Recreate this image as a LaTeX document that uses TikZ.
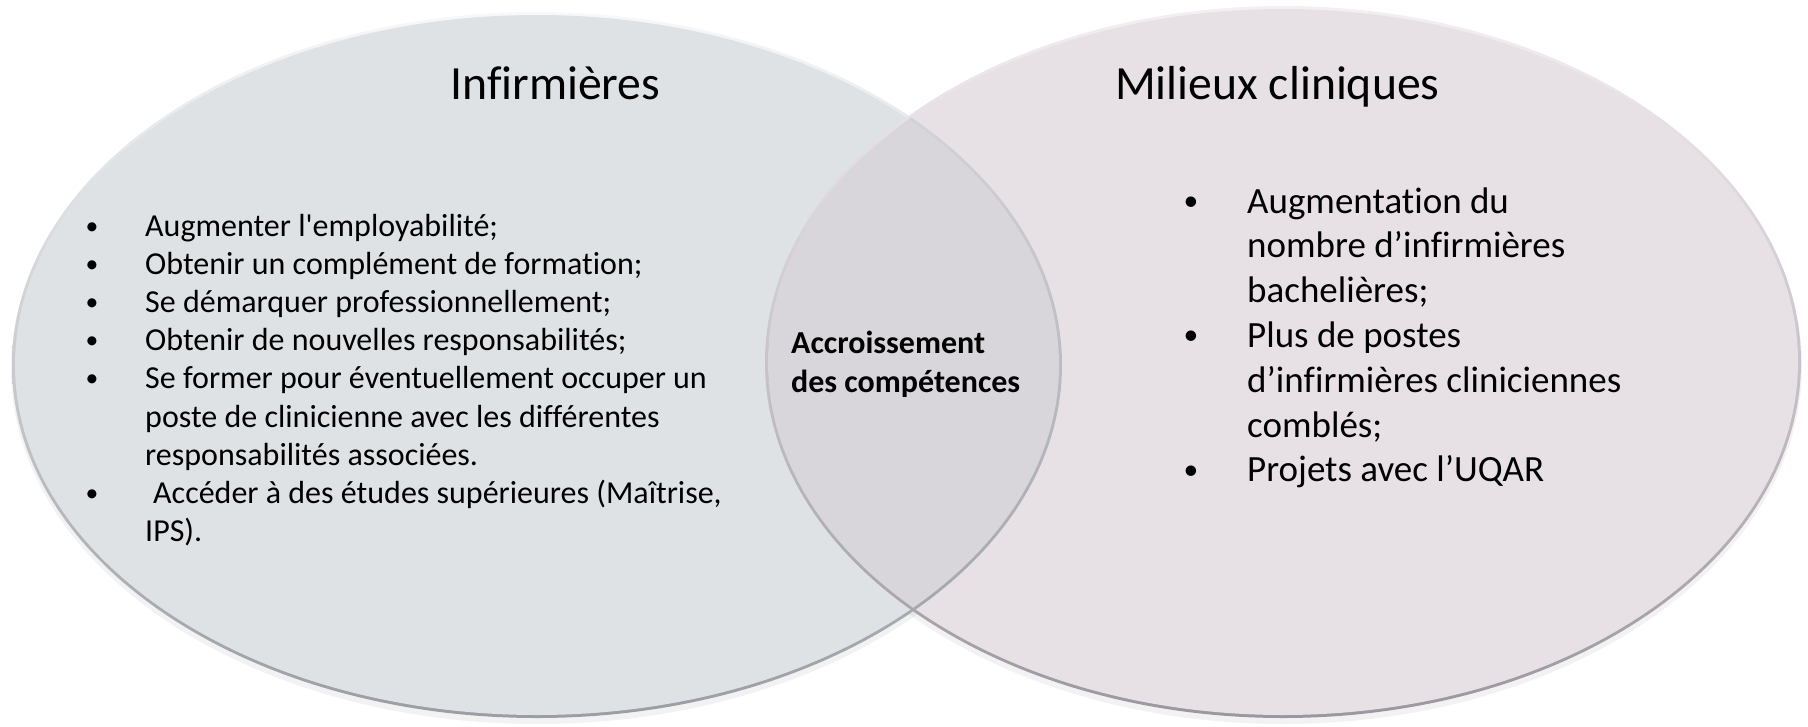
\documentclass[tikz,border=0pt]{standalone}
\usepackage{fontspec}
\setmainfont{Carlito}[Ligatures={NoCommon}]
\definecolor{leftfill}{HTML}{DEE2E5}
\definecolor{rightfill}{HTML}{E7E1E6}
\definecolor{interfill}{HTML}{D8D6DB}
\definecolor{lefttop}{HTML}{F6F8FA}
\definecolor{leftbot}{HTML}{9A9DA3}
\definecolor{righttop}{HTML}{F6EEF5}
\definecolor{rightbot}{HTML}{9C969F}
\begin{document}
\begin{tikzpicture}[x=1pt,y=-1pt,
  title/.style={anchor=base west, inner sep=0pt, font=\fontsize{47.7}{57}\selectfont},
  lbul/.style={anchor=base, inner sep=0pt, font=\fontsize{32}{38}\selectfont, scale=0.8},
  ltxt/.style={anchor=base west, inner sep=0pt, font=\fontsize{32}{38}\selectfont},
  rbul/.style={anchor=base, inner sep=0pt, font=\fontsize{37}{45}\selectfont, scale=0.8},
  rtxt/.style={anchor=base west, inner sep=0pt, font=\fontsize{37}{45}\selectfont},
  mtxt/.style={anchor=base west, inner sep=0pt, font=\bfseries\fontsize{32}{39}\selectfont}]
\useasboundingbox (0,0) rectangle (1808,726);
% shadows
\fill[black,opacity=0.05] (537,369) ellipse [x radius=526pt, y radius=355pt];
\fill[black,opacity=0.05] (1283,366) ellipse [x radius=519pt, y radius=358pt];
% left ellipse
\shade[top color=lefttop, bottom color=leftbot] (537,365) ellipse [x radius=525pt, y radius=353pt];
\fill[leftfill] (537,365) ellipse [x radius=522pt, y radius=350pt];
% right ellipse
\shade[top color=righttop, bottom color=rightbot] (1283,362) ellipse [x radius=518pt, y radius=356pt];
\fill[rightfill] (1283,362) ellipse [x radius=515pt, y radius=353pt];
% intersection
\begin{scope}
  \clip (1283,362) ellipse [x radius=515pt, y radius=353pt];
  \shade[top color=lefttop!70!leftbot, bottom color=leftbot] (537,365) ellipse [x radius=525pt, y radius=353pt];
  \fill[interfill] (537,365) ellipse [x radius=522pt, y radius=350pt];
\end{scope}
% titles
\node[title] (t1) at (450,99.5) {Infirmières};
\node[title] (t2) at (1115,99.5) {Milieux cliniques};
% left bullets
\node[lbul] (lb1) at (92,234) {•};
\node[ltxt] (l1) at (145,236) {Augmenter l\textquotesingle employabilité;};
\node[lbul] (lb2) at (92,272.2) {•};
\node[ltxt] (l2) at (145,274.2) {Obtenir un complément de formation;};
\node[lbul] (lb3) at (92,310.4) {•};
\node[ltxt] (l3) at (145,312.4) {Se démarquer professionnellement;};
\node[lbul] (lb4) at (92,348.6) {•};
\node[ltxt] (l4) at (145,350.6) {Obtenir de nouvelles responsabilités;};
\node[lbul] (lb5) at (92,386.8) {•};
\node[ltxt] (l5a) at (145,388.8) {Se former pour éventuellement occuper un};
\node[ltxt] (l5b) at (145,427) {poste de clinicienne avec les différentes};
\node[ltxt] (l5c) at (145,465.2) {responsabilités associées.};
\node[lbul] (lb6) at (92,501.4) {•};
\node[ltxt] (l6a) at (153,503.4) {Accéder à des études supérieures (Maîtrise,};
\node[ltxt] (l6b) at (145,541.6) {IPS).};
% middle
\node[mtxt] (m1) at (791,353) {Accroissement};
\node[mtxt] (m2) at (791,392) {des compétences};
% right bullets
\node[rbul] (rb1) at (1191,210.5) {•};
\node[rtxt] (r1a) at (1247,213) {Augmentation du};
\node[rtxt] (r1b) at (1247,257.8) {nombre d’infirmières};
\node[rtxt] (r1c) at (1247,302.6) {bachelières;};
\node[rbul] (rb2) at (1191,344.9) {•};
\node[rtxt] (r2a) at (1247,347.4) {Plus de postes};
\node[rtxt] (r2b) at (1247,392.2) {d’infirmières cliniciennes};
\node[rtxt] (r2c) at (1247,437) {comblés;};
\node[rbul] (rb3) at (1191,479.3) {•};
\node[rtxt] (r3) at (1247,481.8) {Projets avec l’UQAR};
\end{tikzpicture}
\end{document}
